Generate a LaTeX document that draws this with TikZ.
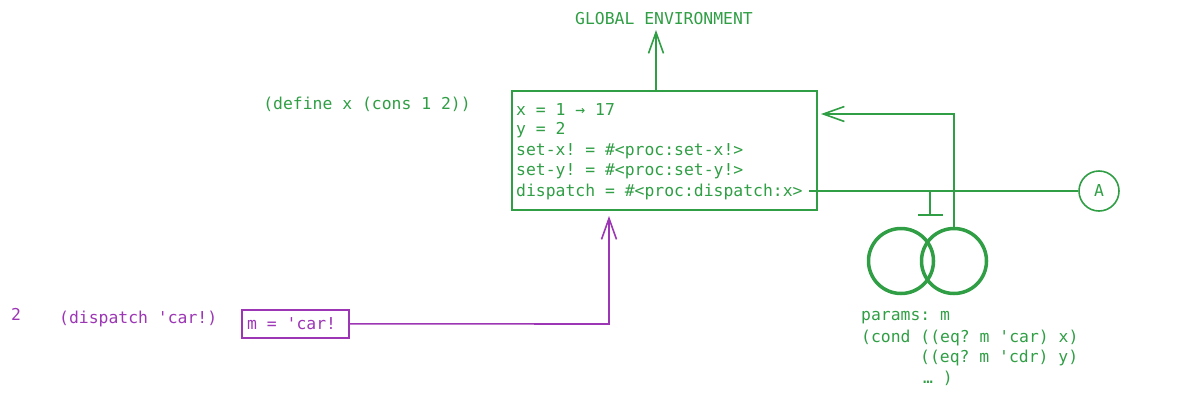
\documentclass[tikz,border=0pt]{standalone}
\usepackage{fontspec}
\setmonofont{DejaVu Sans Mono}
\usetikzlibrary{arrows.meta}
\definecolor{gr}{HTML}{2F9E44}
\definecolor{pu}{HTML}{9C36B5}
\begin{document}
\begin{tikzpicture}[x=1pt,y=-1pt,
  txt/.style={font=\ttfamily\fontsize{16.4}{20}\selectfont, inner sep=0pt, anchor=west},
  gtxt/.style={txt, text=gr},
  ptxt/.style={txt, text=pu},
  gline/.style={draw=gr, line width=1.6pt},
  pline/.style={draw=pu, line width=1.6pt},
  barb/.style={-{Straight Barb[length=21pt,width=15pt,line width=1.6pt]}}
]
\useasboundingbox (0,0) rectangle (1196,405);

% global environment
\node[gtxt, anchor=center] (global) at (664,19) {GLOBAL ENVIRONMENT};
\node[gtxt, anchor=center] (define) at (367,104) {(define x (cons 1 2))};

% environment box
\node[gline, minimum width=305pt, minimum height=119pt, inner sep=0pt, anchor=north west] (env) at (511,90) {};
\node[gtxt] (l1) at (516,110) {x = 1 → 17};
\node[gtxt] (l2) at (516,130) {y = 2};
\node[gtxt] (l3) at (516,151) {set-x! = \#<proc:set-x!>};
\node[gtxt] (l4) at (516,171) {set-y! = \#<proc:set-y!>};
\node[gtxt] (l5) at (516,192) {dispatch = \#<proc:dispatch:x>};

\coordinate (envtop) at (656,90);
\coordinate (globalbot) at (656,30);
\draw[gline, barb] (envtop) -- (globalbot);

% procedure object
\node[circle, draw=gr, line width=3.5pt, minimum size=65pt, inner sep=0pt] (c1) at (901,261) {};
\node[circle, draw=gr, line width=3.5pt, minimum size=65pt, inner sep=0pt] (c2) at (954,261) {};
\node[circle, draw=gr, line width=1.6pt, minimum size=40pt, inner sep=0pt] (A) at (1099,191) {};
\node[gtxt, anchor=center] (Alabel) at (A.center) {A};

\coordinate (dstart) at (809,191);
\draw[gline] (dstart) -- (A.west);
\coordinate (ttop) at (930,191);
\coordinate (tbot) at (930,215);
\coordinate (tl) at (918,215);
\coordinate (tr) at (943,215);
\draw[gline] (ttop) -- (tbot);
\draw[gline] (tl) -- (tr);

\coordinate (bend) at (954,114);
\coordinate (envin) at (821,114);
\draw[gline, barb] (c2.north) -- (bend) -- (envin);

\node[gtxt] (p1) at (861,318) {params: m};
\node[gtxt] (p2) at (861,338) {(cond ((eq? m 'car) x)};
\node[gtxt] (p3) at (920,358) {((eq? m 'cdr) y)};
\node[gtxt] (p4) at (923,378) {… )};

% purple call frame
\node[ptxt, anchor=center] (two) at (16,314) {2};
\node[ptxt] (call) at (59,319) {(dispatch 'car!)};
\node[pline, minimum width=107pt, minimum height=28pt, inner sep=0pt, anchor=north west] (frame) at (241,309) {};
\node[ptxt] (m) at (247,324) {m = 'car!};
\coordinate (pcorner) at (609,324);
\coordinate (penv) at (609,216);
\draw[pline, barb] (frame.east) -- (pcorner) -- (penv);
\end{tikzpicture}
\end{document}
